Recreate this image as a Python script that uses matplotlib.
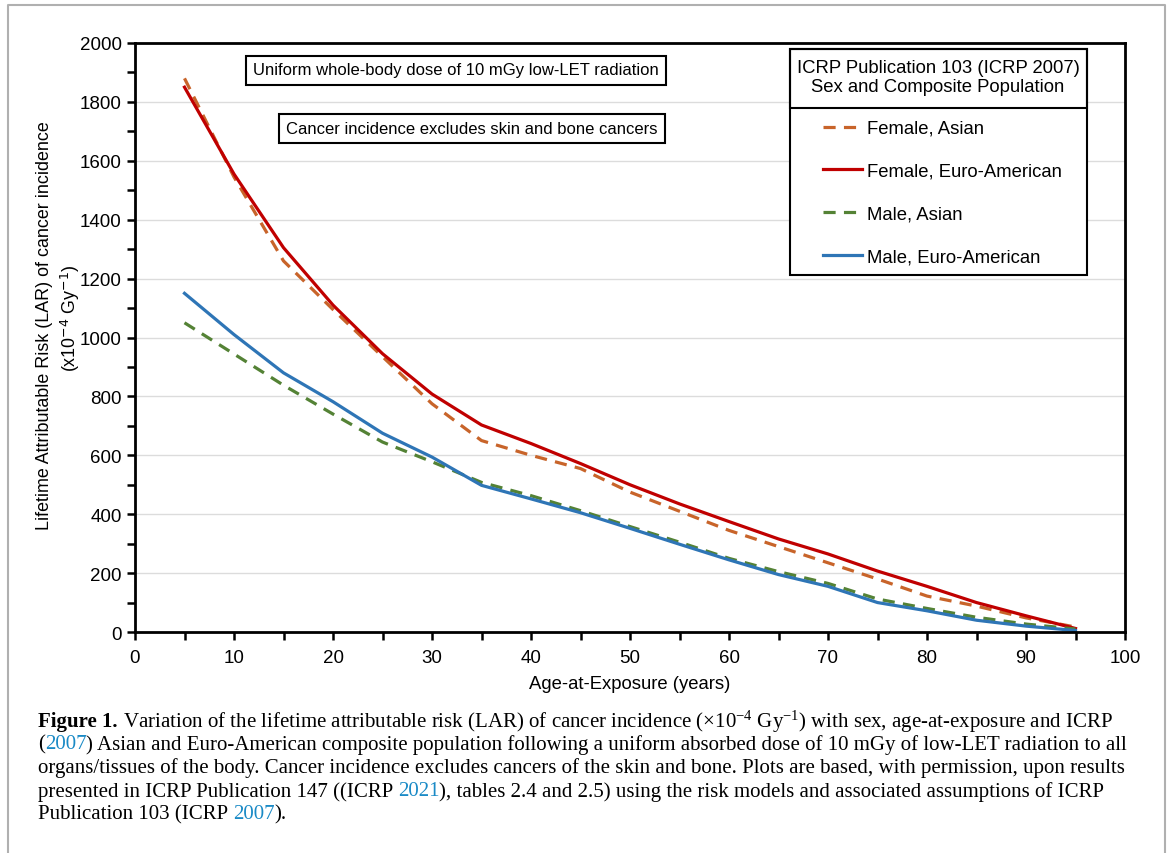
import matplotlib.pyplot as plt
from matplotlib.patches import Rectangle
from matplotlib.lines import Line2D
import numpy as np

plt.rcParams['font.family'] = ['Liberation Sans', 'DejaVu Sans']
plt.rcParams['mathtext.fontset'] = 'custom'
plt.rcParams['mathtext.rm'] = 'Liberation Serif'
plt.rcParams['mathtext.it'] = 'Liberation Serif:italic'

# data
ages = [5, 10, 15, 20, 25, 30, 35, 40, 45, 50, 55, 60, 65, 70, 75, 80, 85, 90, 95]
female_asian = [1880, 1545, 1260, 1095, 935, 775, 650, 600, 555, 475, 410, 345, 290, 235, 180, 122, 88, 48, 17]
female_euro = [1850, 1555, 1305, 1110, 945, 808, 703, 640, 572, 500, 435, 375, 316, 265, 207, 155, 100, 55, 12]
male_asian = [1050, 944, 838, 740, 645, 578, 508, 463, 412, 358, 305, 250, 205, 165, 112, 80, 50, 27, 10]
male_euro = [1150, 1010, 880, 782, 675, 594, 498, 452, 405, 352, 298, 245, 195, 155, 100, 72, 40, 20, 5]

W, H = 1171, 854


def fx(x):
    return x / W


def fy(y):
    return 1 - y / H


fig = plt.figure(figsize=(W / 100, H / 100), dpi=100)
ax = fig.add_axes([fx(135), fy(633), fx(1125) - fx(135), fy(44) - fy(633)])

dash = (0, (3.8, 2.6))
l1, = ax.plot(ages, female_asian, color='#C8642A', lw=2.3, linestyle=dash, label='Female, Asian')
l2, = ax.plot(ages, female_euro, color='#C00000', lw=2.3, label='Female, Euro-American')
l3, = ax.plot(ages, male_asian, color='#548235', lw=2.3, linestyle=dash, label='Male, Asian')
l4, = ax.plot(ages, male_euro, color='#2E75B6', lw=2.3, label='Male, Euro-American')

ax.set_xlim(0, 100)
ax.set_ylim(0, 2000)
ax.set_xticks(np.arange(0, 101, 10))
ax.set_xticks(np.arange(5, 100, 10), minor=True)
ax.set_yticks(np.arange(0, 2001, 200))
ax.set_yticks(np.arange(100, 2000, 200), minor=True)
ax.tick_params(which='both', direction='out', length=6, width=1.8, labelsize=13.5, color='black')
ax.tick_params(axis='x', pad=6)
ax.tick_params(top=False, right=False)
ax.grid(axis='y', which='major', color='#dcdcdc', lw=1)
ax.set_axisbelow(True)
for s in ax.spines.values():
    s.set_linewidth(2)

ax.set_xlabel('Age-at-Exposure (years)', fontsize=13.3, labelpad=7)
fig.text(fx(45), fy(326), 'Lifetime Attributable Risk (LAR) of cancer incidence',
         rotation=90, ha='center', va='center', fontsize=12.9)
fig.text(fx(70), fy(318), r'(x10$^{\mathsf{-4}}$ Gy$^{\mathsf{-1}}$)',
         rotation=90, ha='center', va='center', fontsize=12.9)

box = dict(boxstyle='square,pad=0.42', fc='white', ec='black', lw=1.5)
fig.text(fx(456), fy(71), 'Uniform whole-body dose of 10 mGy low-LET radiation',
         ha='center', va='center', fontsize=12, bbox=box)
fig.text(fx(472), fy(129), 'Cancer incidence excludes skin and bone cancers',
         ha='center', va='center', fontsize=12, bbox=box)

# legend box
fig.patches.append(Rectangle((fx(790), fy(276)), fx(1087) - fx(790), fy(50) - fy(276),
                             transform=fig.transFigure, fc='white', ec='black', lw=1.5, zorder=3))
fig.patches.append(Rectangle((fx(790), fy(109)), fx(1087) - fx(790), fy(50) - fy(109),
                             transform=fig.transFigure, fc='none', ec='black', lw=1.5, zorder=4))
fig.text(fx(938), fy(78), 'ICRP Publication 103 (ICRP 2007)\nSex and Composite Population',
         ha='center', va='center', fontsize=13.3, linespacing=1.15, zorder=5)
leg = fig.legend(handles=[l1, l2, l3, l4], loc='upper left',
                 bbox_to_anchor=(fx(823), fy(121)), frameon=False, fontsize=13.3,
                 borderaxespad=0, borderpad=0, handlelength=2.1, handletextpad=0.27,
                 labelspacing=1.39)
leg.set_zorder(6)

# outer frame
fig.add_artist(Line2D([fx(8), fx(8), fx(1165), fx(1165)], [0, fy(6), fy(6), 0],
                      transform=fig.transFigure, color='#b0b0b0', lw=1.5))

# caption
blue = '#1a8ac6'
lines = [
    [('Figure 1.', 'k', 'bold'),
     (r' Variation of the lifetime attributable risk (LAR) of cancer incidence ($\times10^{-4}$ Gy$^{-1}$) with sex, age-at-exposure and ICRP', 'k', 'normal')],
    [('(', 'k', 'normal'), ('2007', blue, 'normal'),
     (') Asian and Euro-American composite population following a uniform absorbed dose of 10 mGy of low-LET radiation to all', 'k', 'normal')],
    [('organs/tissues of the body. Cancer incidence excludes cancers of the skin and bone. Plots are based, with permission, upon results', 'k', 'normal')],
    [('presented in ICRP Publication 147 ((ICRP ', 'k', 'normal'), ('2021', blue, 'normal'),
     ('), tables 2.4 and 2.5) using the risk models and associated assumptions of ICRP', 'k', 'normal')],
    [('Publication 103 (ICRP ', 'k', 'normal'), ('2007', blue, 'normal'), (').', 'k', 'normal')],
]
line_y = [722, 745, 768, 792, 815]
renderer = fig.canvas.get_renderer()
for segs, yy in zip(lines, line_y):
    x = 38
    for txt, col, wt in segs:
        t = fig.text(fx(x), fy(yy), txt, ha='left', va='center', fontsize=15,
                     family='Liberation Serif', color=col, weight=wt)
        bb = t.get_window_extent(renderer=renderer)
        x += bb.width

fig.savefig('out.png', dpi=100)
